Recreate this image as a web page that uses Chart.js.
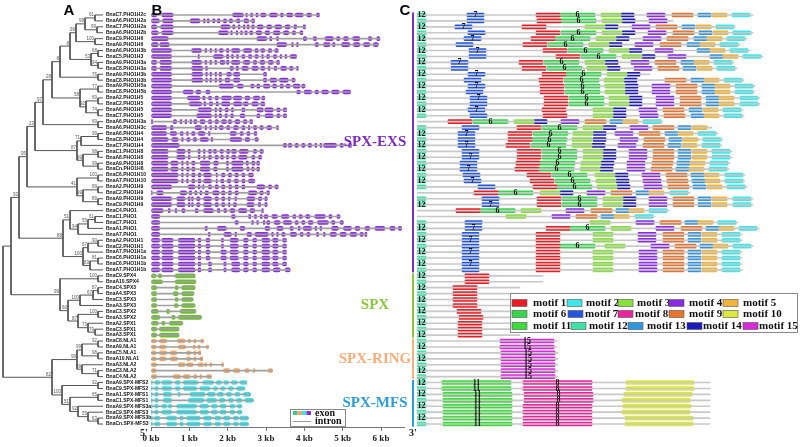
<!DOCTYPE html>
<html>
<head>
<meta charset="utf-8">
<script src="https://cdn.jsdelivr.net/npm/chart.js@4.4.1/dist/chart.umd.min.js"></script>
<style>
body { margin: 0; background: #fff; }
#wrap { position: relative; width: 800px; height: 447px; overflow: hidden; background: #fff; }
canvas { position: absolute; top: 0; }
#treeChart { left: 0; }
#geneChart { left: 130px; }
#motifChart { left: 400px; }
</style>
</head>
<body>
<div id="wrap">
<canvas id="treeChart" width="160" height="447"></canvas>
<canvas id="geneChart" width="290" height="447"></canvas>
<canvas id="motifChart" width="400" height="447"></canvas>
</div>
<script>
// gene names, top to bottom
const geneNames = ['BnaC7.PHO1H2c','BnaA6.PHO1H2a','BnaC7.PHO1H2a','BnaA6.PHO1H2b','BnaC9.PHO1H6','BnaA9.PHO1H6','BnaA6.PHO1H3b','BnaC5.PHO1H3','BnaA9.PHO1H3a','BnaC8.PHO1H3a','BnaA9.PHO1H3b','BnaC8.PHO1H3b','BnaA9.PHO1H5a','BnaC8.PHO1H5b','BnaA2.PHO1H5','BnaC2.PHO1H5','BnaA6.PHO1H5','BnaC7.PHO1H5','BnaA6.PHO1H3a','BnaA6.PHO1H3c','BnaA6.PHO1H4','BnaC8.PHO1H4','BnaC7.PHO1H4','BnaC1.PHO1H8','BnaA8.PHO1H8','BnaA9.PHO1H8','BnaCn.PHO1H8','BnaC6.PHO1H10','BnaA7.PHO1H10','BnaA2.PHO1H9','BnaC2.PHO1H9','BnaA9.PHO1H9','BnaC9.PHO1H9','BnaC4.PHO1','BnaC1.PHO1','BnaC7.PHO1','BnaA1.PHO1','BnaA7.PHO1','BnaA2.PHO1H1','BnaC2.PHO1H1','BnaA7.PHO1H1a','BnaC6.PHO1H1a','BnaC6.PHO1H1b','BnaA7.PHO1H1b','BnaC9.SPX4','BnaA10.SPX4','BnaC4.SPX3','BnaA4.SPX3','BnaC3.SPX3','BnaA3.SPX3','BnaC3.SPX2','BnaA3.SPX2','BnaA2.SPX1','BnaC3.SPX1','BnaA3.SPX1','BnaC8.NLA1','BnaA9.NLA1','BnaC5.NLA1','BnaA10.NLA1','BnaA3.NLA2','BnaC3.NLA2','BnaC4.NLA2','BnaA9.SPX-MFS2','BnaC9.SPX-MFS2','BnaA1.SPX-MFS1','BnaC1.SPX-MFS1','BnaA9.SPX-MFS3a','BnaC9.SPX-MFS3','BnaA9.SPX-MFS3b','BnaCn.SPX-MFS3']

const groupNames = ['SPX-EXS', 'SPX', 'SPX-RING', 'SPX-MFS']
const groupSizes = [44, 11, 7, 8]
const groupColors = ['#8b2be2', '#6cbe2c', '#f5a86e', '#38e4ef']
const groupLabelColors = ['#7a2cc0', '#8cc63f', '#f4ae7c', '#2f9bd7']
const groupStripColors = ['#7a30c0', '#8cc63f', '#f4b183', '#2e9bd6']

// tree: (childA,childB)bootstrap:depth, leaves are row numbers
const treeNewick = '((((((((((((0,1)61:95,(2,3)99:97)99:85,(4,5)100:95)99:76,((6,7)68:98,(8,9)94:98)53:91)8:70,(10,11)76:98)8:60,((12,13)77:98,((14,15)69:98,(16,17)74:98)92:86)58:80)28:52,(18,19)69:98)97:43,(((20,21)99:98,22)71:81,((23,24)98:98,(25,26)99:98)99:83)87:77)23:35,((27,28)100:98,((29,30)89:98,(31,32)89:98)99:83)41:77)95:27,((33,(((34,35)61:95,36)55:88,37)94:78)51:70,(((38,39)90:98,40)67:88,((41,42)81:98,43)83:90)100:83)88:63)93:19,((44,45)100:98,((((46,47)87:98,48)67:93,49)100:80,((50,51)100:98,(52,(53,54)79:95)73:88)87:78)60:68)99:60):11,((((55,56)92:98,(57,58)98:98)99:82,(59,(60,61)71:98)99:82)99:77,((62,63)92:98,((64,65)65:98,(66,(67,(68,69)63:98)55:88)92:78)51:70)100:62)82:52):3'
const leafDepth = 103

// exons in kb
const exonKb = [
 [[0,.15],[.28,.58],[2.13,2.41],[2.48,2.51],[2.6,2.65],[2.74,2.79],[2.86,3.0],[3.09,3.3],[3.38,3.45],[3.54,3.7],[3.76,3.97],[4.06,4.19],[4.32,4.39]],
 [[0,.22],[.3,.58],[1.02,1.28],[1.37,1.41],[1.47,1.52],[1.61,1.67],[1.73,1.8],[1.89,1.97],[2.04,2.13],[2.23,2.32],[2.42,2.55],[2.63,2.7]],
 [[0,.15],[.25,.58],[1.82,2.06],[2.13,2.19],[2.28,2.32],[2.41,2.45],[2.51,2.56],[2.63,2.69],[2.77,2.93],[3.02,3.15],[3.23,3.41],[3.5,3.63],[3.73,3.8],[3.97,4.03]],
 [[0,.19],[.28,.58],[1.76,2.02],[2.08,2.12],[2.22,2.26],[2.34,2.38],[2.45,2.51],[2.58,2.65],[2.74,2.89],[2.97,3.1],[3.19,3.37],[3.45,3.6],[3.69,3.77],[3.89,3.96]],
 [[0,.45],[2.76,3.02],[3.1,3.15],[3.28,3.32],[3.97,4.06],[4.23,4.32],[4.54,4.76],[4.84,4.93],[5.02,5.15],[5.26,5.45],[5.67,5.76],[5.89,5.97]],
 [[0,.19],[.23,.48],[3.28,3.54],[3.67,3.71],[3.8,3.84],[4.28,4.37],[4.5,4.67],[4.74,4.8],[4.97,5.19],[5.28,5.45],[5.54,5.71],[5.8,5.93]],
 [[0,.54],[1.06,1.32],[1.41,1.45],[1.54,1.58],[1.67,1.71],[1.78,1.89],[1.97,2.03],[2.1,2.32],[2.41,2.63],[2.71,2.8],[2.86,2.97],[3.06,3.15],[3.23,3.32]],
 [[0,.54],[1.23,1.26],[1.63,1.89],[1.97,2.03],[2.1,2.15],[2.23,2.28],[2.37,2.45],[2.54,2.63],[2.71,2.8],[2.89,2.93],[3.02,3.09],[3.19,3.28],[3.37,3.41],[3.5,3.54],[3.63,3.8]],
 [[0,.15],[.23,.54],[1.06,1.32],[1.41,1.45],[1.54,1.58],[1.67,1.71],[1.8,1.93],[1.97,2.03],[2.1,2.32],[2.41,2.58],[2.67,2.76],[2.84,2.97],[3.06,3.19],[3.28,3.35]],
 [[0,.15],[.23,.54],[1.06,1.35],[1.43,1.47],[2.06,2.15],[2.22,2.28],[2.37,2.54],[2.63,2.8],[2.86,2.97],[3.06,3.1],[3.21,3.28],[3.38,3.54],[3.61,3.71],[3.8,3.84]],
 [[0,.54],[1.06,1.35],[1.43,1.47],[1.54,1.58],[1.67,1.71],[1.78,1.84],[1.97,2.1],[2.15,2.32],[2.93,3.02]],
 [[0,.54],[1.06,1.35],[1.43,1.47],[1.54,1.58],[1.67,1.71],[1.78,1.84],[1.93,2.06],[2.15,2.32],[2.93,3.02],[3.1,3.28],[3.35,3.58],[3.67,3.76]],
 [[0,.54],[1.78,2.15],[2.25,2.41],[2.6,2.69],[2.76,2.84],[2.93,3.1],[3.17,3.28],[3.37,3.45],[3.52,3.63],[3.71,3.89],[3.93,4.02]],
 [[0,.54],[.84,1.1],[1.17,1.3],[1.43,1.54],[3.8,3.9],[3.99,4.19],[4.28,4.37],[4.45,4.63],[4.71,4.91],[5.0,5.21]],
 [[0,.54],[.95,1.28],[1.35,1.41],[1.5,1.58],[1.67,1.76],[1.84,2.1],[2.15,2.37],[2.45,2.58],[2.67,2.84],[2.89,2.97]],
 [[0,.54],[1.0,1.32],[1.38,1.43],[1.52,1.61],[1.7,1.76],[1.84,2.06],[2.15,2.37],[2.41,2.54],[2.63,2.8],[2.86,2.97]],
 [[0,.54],[1.23,1.58],[1.67,1.71],[1.78,1.84],[1.93,2.02],[2.1,2.15],[2.37,2.45],[2.76,2.93],[2.97,3.19],[3.28,3.37],[3.45,3.54]],
 [[0,.54],[1.19,1.58],[1.67,1.71],[1.78,1.84],[1.93,1.99],[2.08,2.15],[2.32,2.45],[2.76,2.84],[2.97,3.19],[3.28,3.37],[3.45,3.54]],
 [[0,.04],[.58,.67],[.76,.8],[.89,.93],[1.02,1.06],[1.12,1.19],[1.28,1.41],[1.5,1.58],[1.67,1.76],[1.84,1.97],[2.02,2.1],[2.19,2.32],[2.41,2.5],[2.58,2.65]],
 [[0,.41],[.5,.58],[1.15,1.32],[1.41,1.45],[1.54,1.58],[1.67,1.71],[1.78,1.89],[1.97,2.06],[2.15,2.28],[2.37,2.45],[2.54,2.58],[2.67,2.76],[2.84,2.93],[3.02,3.15],[3.28,3.32]],
 [[0,.41],[.5,.67],[.76,.84],[.93,.97],[1.06,1.15],[1.23,1.41],[1.5,1.54],[2.06,2.23],[2.32,2.41],[2.5,2.58],[2.69,2.76]],
 [[0,.45],[.54,.71],[.8,.84],[.93,1.02],[1.1,1.19],[1.28,1.5],[1.57,1.61],[2.06,2.37],[2.45,2.58],[2.71,2.8]],
 [[0,.74],[3.45,3.54],[3.58,3.67],[3.76,3.84],[3.93,4.02],[4.1,4.19],[4.28,4.32],[4.41,4.45],[4.5,4.84],[4.93,5.02],[5.15,5.23]],
 [[0,.45],[.67,.89],[.97,1.02],[1.23,1.28],[1.37,1.41],[1.5,1.58],[1.63,1.71],[1.8,1.89],[1.97,2.06],[2.1,2.23],[2.3,2.54],[2.67,2.76],[2.84,2.93]],
 [[0,.45],[.67,.89],[.97,1.02],[1.23,1.28],[1.37,1.41],[1.5,1.58],[1.67,1.76],[1.82,1.89],[1.97,2.02],[2.1,2.22],[2.28,2.51],[2.63,2.71],[2.8,2.89]],
 [[0,.45],[.51,.71],[.8,.84],[.93,.97],[1.06,1.15],[1.28,1.54],[1.63,1.76],[1.97,2.02],[2.1,2.41],[2.48,2.54],[2.63,2.71],[2.76,2.83]],
 [[0,.45],[.51,.71],[.8,.84],[.93,1.0],[1.06,1.15],[1.28,1.54],[1.63,1.73],[1.97,2.02],[2.1,2.41],[2.5,2.56],[2.63,2.69],[2.76,2.83]],
 [[0,.71],[.8,.84],[.93,.97],[1.06,1.15],[1.23,1.3],[1.37,1.58],[1.7,1.73],[1.84,1.93],[2.02,2.1],[2.19,2.28],[2.37,2.45],[2.54,2.67]],
 [[0,.71],[.8,.84],[.93,.97],[1.06,1.15],[1.23,1.3],[1.37,1.58],[1.7,1.73],[1.82,1.9],[1.99,2.08],[2.17,2.28],[2.37,2.45],[2.54,2.71]],
 [[0,.54],[.97,1.15],[1.23,1.28],[1.35,1.38],[1.5,1.58],[1.67,1.76],[1.84,1.93],[2.03,2.1],[2.19,2.28],[2.37,2.45],[2.76,2.97],[3.06,3.15],[3.23,3.32]],
 [[0,.03],[.15,.32],[.76,.93],[1.0,1.06],[1.15,1.19],[1.28,1.32],[1.41,1.5],[1.61,1.78],[1.84,1.93],[2.02,2.1],[2.19,2.28],[2.54,2.76],[2.84,2.93],[3.02,3.09]],
 [[0,.54],[.67,.89],[.97,1.02],[1.06,1.1],[1.19,1.28],[1.37,1.58],[1.67,1.76],[1.84,1.93],[2.02,2.06],[2.19,2.23],[2.5,2.71],[2.8,2.89],[2.97,3.03]],
 [[0,.54],[.67,.89],[.97,1.02],[1.06,1.1],[1.19,1.28],[1.37,1.58],[1.67,1.76],[1.84,1.93],[2.02,2.06],[2.15,2.23],[2.5,2.69],[2.8,2.86],[2.97,3.03]],
 [[0,.32],[.45,.5],[.63,.67],[.8,.89],[1.15,1.23],[1.37,1.63],[1.73,1.8],[1.9,1.97],[2.06,2.19],[2.28,2.5],[2.58,2.71],[2.89,2.93]],
 [[0,.23],[2.1,2.2],[2.55,2.6],[2.7,2.75],[2.85,2.9],[2.95,3.05],[3.15,3.3],[3.4,3.6],[3.7,3.78],[3.86,3.95],[4.03,4.15],[4.27,4.55],[4.64,4.72],[4.85,4.93]],
 [[0,.23],[2.19,2.28],[2.63,2.67],[2.76,2.8],[2.93,2.97],[3.02,3.1],[3.21,3.37],[3.45,3.67],[3.76,3.84],[3.93,4.02],[4.1,4.23],[4.34,4.63],[4.71,4.8],[4.93,5.02]],
 [[0,.23],[1.41,1.47],[1.73,1.97],[2.32,2.45],[2.97,3.1],[3.28,3.45],[3.63,3.71],[3.84,3.89],[3.97,4.19],[4.28,4.32],[4.41,4.45],[4.71,4.89],[5.02,5.23],[5.32,5.45],[5.58,5.71],[5.84,6.1],[6.23,6.37],[6.45,6.54]],
 [[0,.23],[1.5,1.54],[1.9,2.1],[2.19,2.23],[2.5,2.63],[2.71,3.06],[3.15,3.19],[3.28,3.32],[3.41,3.5],[3.63,3.8],[3.89,3.97],[4.06,4.15],[4.32,4.37],[4.5,4.54],[4.67,4.84],[4.93,5.1],[5.19,5.37],[5.45,5.54],[5.58,5.63]],
 [[0,.23],[.28,.58],[.71,1.15],[1.23,1.3],[1.43,1.54],[1.84,1.89],[2.06,2.28],[2.41,2.54],[2.65,2.76],[2.89,3.1],[3.17,3.32],[3.43,3.54]],
 [[0,.23],[.28,.58],[.71,1.15],[1.23,1.3],[1.43,1.54],[1.84,1.89],[2.06,2.28],[2.41,2.54],[2.65,2.76],[2.89,3.1],[3.17,3.32],[3.43,3.54]],
 [[0,.23],[.28,.58],[.71,1.15],[1.23,1.3],[1.43,1.54],[1.82,1.97],[2.06,2.28],[2.41,2.54],[2.65,2.76],[2.89,3.1],[3.17,3.32],[3.43,3.54]],
 [[0,.23],[.28,.58],[.71,1.15],[1.23,1.3],[1.43,1.54],[1.82,1.97],[2.06,2.28],[2.41,2.54],[2.65,2.76],[2.89,3.1],[3.17,3.32],[3.43,3.54]],
 [[0,.23],[.28,.58],[.71,1.15],[1.23,1.3],[1.5,1.58],[1.9,1.96],[2.1,2.32],[2.41,2.54],[2.65,2.76],[2.89,3.1],[3.17,3.32],[3.43,3.54]],
 [[0,.23],[.28,.58],[.71,1.15],[1.23,1.3],[1.5,1.58],[1.9,1.96],[2.1,2.32],[2.41,2.54],[2.65,2.76],[2.89,3.1],[3.19,3.37],[3.5,3.63]],
 [[0,.13],[.19,.28],[.63,1.15]],
 [[0,.3],[.63,1.17]],
 [[0,.15],[.63,.71],[.8,1.15]],
 [[0,.15],[.58,.71],[.8,1.12]],
 [[0,.15],[.63,.71],[.8,1.1]],
 [[0,.15],[.61,.71],[.8,1.15]],
 [[0,.19],[.41,.48],[.76,1.17]],
 [[0,.23],[.54,.63],[.71,1.32]],
 [[0,.19],[.28,.37],[.48,.83]],
 [[0,.15],[.22,.73]],
 [[0,.15],[.22,.73]],
 [[0,.13],[.22,.41],[.69,.89],[.97,1.03],[1.12,1.17],[1.3,1.37]],
 [[0,.13],[.22,.39],[.71,.91],[1.1,1.15],[1.23,1.28],[1.45,1.5]],
 [[0,.13],[.22,.41],[.5,.67],[.93,1.03],[1.12,1.17],[1.23,1.3]],
 [[0,.13],[.22,.39],[.5,.69],[.93,1.03],[1.12,1.17],[1.28,1.35]],
 [[0,.15],[.71,.89],[.93,1.1],[1.23,1.37],[1.41,1.45],[1.54,1.58],[1.84,1.89]],
 [[0,.13],[1.89,2.06],[2.15,2.32],[2.45,2.56],[2.67,2.71],[3.06,3.17]],
 [[0,.15],[.58,.77],[.84,1.02],[1.12,1.19],[1.28,1.32],[1.45,1.58]],
 [[0,.03],[.1,.23],[.28,.54],[.63,.76],[.84,1.23],[1.35,1.63],[1.7,1.84],[1.9,2.02],[2.1,2.25],[2.32,2.5]],
 [[0,.03],[.1,.19],[.28,.54],[.63,.76],[.84,1.19],[1.28,1.54],[1.63,1.73],[1.82,1.93],[2.02,2.15],[2.23,2.45]],
 [[0,.03],[.1,.19],[.32,.54],[.71,.76],[1.02,1.41],[1.47,1.67],[1.73,1.89],[1.97,2.1],[2.19,2.32],[2.41,2.6]],
 [[0,.03],[.1,.19],[.32,.54],[.97,1.38],[1.45,1.71],[1.78,1.93],[2.02,2.15],[2.23,2.37],[2.45,2.67]],
 [[0,.03],[.1,.19],[.28,.41],[.45,.54],[.67,1.19],[1.28,1.5],[1.58,1.73],[1.8,1.96],[2.06,2.19],[2.25,2.37]],
 [[0,.03],[.1,.19],[.28,.54],[.67,1.19],[1.28,1.5],[1.58,1.73],[1.8,1.96],[2.06,2.19],[2.25,2.37]],
 [[0,.03],[.1,.23],[.41,.67],[.76,.84],[.93,1.28],[1.37,1.58],[1.67,1.82],[1.89,2.06],[2.15,2.28],[2.32,2.54]],
 [[0,.03],[.1,.23],[.41,.67],[.76,.84],[.93,1.28],[1.37,1.58],[1.67,1.82],[1.89,2.06],[2.15,2.28],[2.32,2.54]]
]
const kbTicks = [0, 1, 2, 3, 4, 5, 6]

// motifs (index = motif number - 1)
const motifColors = ['#ec1c24','#3fe7ea','#86e23a','#8a2be2','#f2b53a','#35d84d','#2457e0','#e8249e','#e8732c','#dde83c','#3bdc3b','#3ee3a8','#3196de','#1c1ab8','#d62bd9']
const motifLength = [24,18,20,18,15,35,17,69,21,68,69,9,13,13,54]
const labelledMotifs = [6, 7, 8, 11, 12, 15]

const phoMotifOrder = [12,7,1,6,3,14,4,9,13,5,2]
const phoMotifStarts = [
 [0,50,119,143,184,204,230,255,281,295,315],
 [0,50,120,144,185,205,232,null,null,null,null],
 [0,38,105,null,168,188,215,239,265,279,299],
 [0,51,119,144,185,205,231,256,282,296,316],
 [0,47,114,138,179,199,226,250,277,290,310],
 [0,39,106,131,172,192,218,243,270,283,303],
 [0,52,126,151,192,212,238,null,280,293,313],
 [0,52,139,164,205,225,251,null,293,306,326],
 [0,34,102,127,168,188,214,238,264,277,297],
 [0,34,105,130,170,190,217,241,266,280,300],
 [0,51,125,149,190,210,null,null,null,null,null],
 [0,47,122,147,187,207,null,248,274,287,307],
 [0,51,123,148,188,208,235,259,285,298,318],
 [0,49,123,148,188,208,235,259,285,298,318],
 [0,53,127,152,192,212,239,263,289,302,323],
 [0,53,127,152,192,212,239,263,289,302,323],
 [0,51,125,null,176,196,222,246,272,286,306],
 [0,53,126,null,176,196,223,247,274,287,307],
 [null,null,31,56,97,117,144,168,193,206,226],
 [0,45,100,125,166,186,213,236,261,275,null],
 [0,41,91,116,156,176,198,222,248,261,281],
 [0,41,91,115,155,176,203,227,252,266,286],
 [0,41,89,114,155,175,201,226,251,265,285],
 [0,45,100,125,166,186,212,236,261,275,295],
 [0,45,100,125,166,186,212,236,261,275,295],
 [0,43,99,123,164,184,210,235,260,273,293],
 [0,43,98,122,163,183,210,234,259,272,292],
 [0,46,110,135,178,198,225,249,274,287,308],
 [0,47,113,138,179,199,226,250,275,288,308],
 [0,61,116,140,180,200,227,251,276,290,310],
 [null,null,57,81,123,143,170,194,219,232,253],
 [0,65,120,145,186,206,232,256,281,295,316],
 [0,65,120,145,186,206,232,256,281,295,316],
 [null,null,39,63,104,null,149,174,199,212,232],
 [null,null,null,null,89,null,135,159,184,197,218],
 [0,48,null,null,173,null,219,243,268,281,301],
 [0,48,129,153,194,null,239,264,289,302,322],
 [0,45,119,null,176,null,221,246,271,285,305],
 [0,45,119,null,176,null,221,246,271,285,305],
 [0,45,119,143,188,null,234,258,283,296,316],
 [0,45,119,null,176,null,222,246,271,285,305],
 [0,45,119,null,176,null,222,246,271,285,305],
 [0,45,119,null,176,null,222,246,271,285,305],
 [0,45,119,null,176,null,222,246,271,285,305]
]
const spxMotifOrder = [12, 1]
const spxMotifStarts = [[0,48],[0,48],[0,36],[0,36],[0,36],[0,36],[0,40],[0,42],[0,41],[0,41],[0,41]]
const nlaMotifOrder = [12, 15]
const nlaMotifStarts = [[0,83],[0,83],[0,84],[0,84],[0,84],[0,84],[0,84]]
const mfsMotifOrder = [12, 11, 8, 10]
const mfsMotifStarts = [[0,25,106,209],[0,25,106,209],[0,26,107,207],[0,26,107,205],[0,26,106,206],[0,26,106,205],[0,26,106,208],[0,26,106,208]]
const proteinLength = [336,256,318,336,330,323,333,346,317,320,233,327,338,338,343,343,326,327,246,295,301,306,305,315,315,313,312,328,328,330,273,336,336,252,238,321,342,325,325,336,325,325,325,325,
 126,126,103,103,103,103,103,103,103,103,103,
 140,140,141,141,141,141,141,
 293,293,293,293,293,293,293,293]


// ---------- helpers ----------
const rowGroup = []
groupSizes.forEach((n, g) => { for (let k = 0; k < n; k++) rowGroup.push(g) })

function parseNewick(s) {
    let i = 0
    function node() {
        if (s[i] == '(') {
            i++
            const kids = [node()]
            while (s[i] == ',') { i++; kids.push(node()) }
            i++
            let boot = ''
            while (i < s.length && /[0-9]/.test(s[i])) boot += s[i++]
            let depth = ''
            if (s[i] == ':') { i++; while (i < s.length && /[0-9.]/.test(s[i])) depth += s[i++] }
            return { kids: kids, boot: boot, depth: +depth }
        }
        let leaf = ''
        while (/[0-9]/.test(s[i])) leaf += s[i++]
        return { leaf: +leaf }
    }
    return node()
}

const treeSegs = []
const bootLabels = []
function placeNode(n) {
    if (n.kids === undefined) return { x: leafDepth, y: n.leaf }
    const kids = n.kids.map(placeNode)
    const first = kids[0], last = kids[kids.length - 1]
    treeSegs.push({ x: first.x, y: first.y }, { x: n.depth, y: first.y }, { x: n.depth, y: last.y }, { x: last.x, y: last.y }, { x: null, y: null })
    for (let k = 1; k < kids.length - 1; k++) {
        treeSegs.push({ x: n.depth, y: kids[k].y }, { x: kids[k].x, y: kids[k].y }, { x: null, y: null })
    }
    const y = (first.y + last.y) / 2
    if (n.boot) bootLabels.push({ x: n.depth, y: y, text: n.boot })
    return { x: n.depth, y: y }
}
placeNode(parseNewick(treeNewick))

function drawText(ctx, text, x, y, font, color, align, base) {
    ctx.save()
    ctx.font = font
    ctx.fillStyle = color
    ctx.textAlign = align || 'center'
    ctx.textBaseline = base || 'middle'
    ctx.fillText(text, x, y)
    ctx.restore()
}


// ---------- A: tree ----------
const treePlugin = {
    id: 'treeLabels',
    afterDatasetsDraw(chart) {
        const ctx = chart.ctx
        const xs = chart.scales.x, ys = chart.scales.y
        bootLabels.forEach(function(b) {
            drawText(ctx, b.text, xs.getPixelForValue(b.x) - 1, ys.getPixelForValue(b.y) - 0.5, '4.5px "Liberation Sans"', '#555', 'right', 'bottom')
        })
        drawText(ctx, 'A', 69, 11, 'bold 15px "Liberation Sans"', '#000')
    }
}

new Chart(document.getElementById('treeChart'), {
    type: 'scatter',
    data: {
        datasets: [{
            data: treeSegs,
            showLine: true,
            spanGaps: false,
            borderColor: '#555',
            borderWidth: 1,
            pointRadius: 0,
            pointHitRadius: 0
        }]
    },
    options: {
        animation: false,
        responsive: false,
        events: [],
        layout: { padding: { top: 12, bottom: 20, left: 0, right: 0 } },
        plugins: { legend: { display: false }, tooltip: { enabled: false } },
        scales: {
            x: { type: 'linear', display: false, min: 0, max: 104 },
            y: {
                type: 'linear', position: 'right', reverse: true, min: -0.5, max: geneNames.length - 0.5,
                afterBuildTicks: function(s) { s.ticks = geneNames.map(function(_, i) { return { value: i } }) },
                afterFit: function(s) { s.width = 56 },
                grid: { display: false, drawTicks: false },
                border: { display: false },
                ticks: {
                    autoSkip: false, padding: 2, color: '#111',
                    font: { family: 'Liberation Sans', size: 5, weight: 'bold' },
                    callback: function(v) { return geneNames[v] }
                }
            }
        }
    },
    plugins: [treePlugin]
})


// ---------- B: gene structure ----------
const maxExons = Math.max.apply(null, exonKb.map(function(g) { return g.length }))
const geneDatasets = [{
    data: exonKb.map(function(g) { return [0, g[g.length - 1][1]] }),
    backgroundColor: '#a0a0a0',
    barThickness: 1,
    grouped: false
}]
for (let k = 0; k < maxExons; k++) {
    geneDatasets.push({
        data: exonKb.map(function(g) { return g[k] || null }),
        backgroundColor: rowGroup.map(function(g) { return groupColors[g] }),
        barThickness: 4,
        borderRadius: 2,
        borderSkipped: false,
        grouped: false
    })
}

const genePlugin = {
    id: 'geneDecor',
    afterDraw(chart) {
        const ctx = chart.ctx, ys = chart.scales.y
        let row = 0
        groupSizes.forEach(function(n, g) {
            const yc = (ys.getPixelForValue(row) + ys.getPixelForValue(row + n - 1)) / 2
            drawText(ctx, groupNames[g], 245, yc, 'bold 15px "Liberation Serif"', groupLabelColors[g])
            row += n
        })
        drawText(ctx, 'B', 27, 11, 'bold 15px "Liberation Sans"', '#000')
        drawText(ctx, "5'", 14, 433, 'bold 10px "Liberation Serif"', '#222')
        drawText(ctx, "3'", 283, 433, 'bold 10px "Liberation Serif"', '#222')
        // exon / intron key
        ctx.save()
        ctx.strokeStyle = '#888'
        ctx.lineWidth = 1
        ctx.strokeRect(160.5, 409.5, 55, 17)
        const keyCols = ['#38c98a', '#f5a86e', '#38e4ef', '#8b2be2']
        keyCols.forEach(function(c, k) { ctx.fillStyle = c; ctx.fillRect(163 + k * 4.5, 411, 4.5, 4) })
        ctx.fillStyle = '#999'
        ctx.fillRect(163, 421, 18, 1)
        ctx.restore()
        drawText(ctx, 'exon', 185, 413, 'bold 10px "Liberation Serif"', '#111', 'left')
        drawText(ctx, 'intron', 185, 421.5, 'bold 10px "Liberation Serif"', '#111', 'left')
    }
}

new Chart(document.getElementById('geneChart'), {
    type: 'bar',
    data: { labels: geneNames, datasets: geneDatasets },
    options: {
        indexAxis: 'y',
        animation: false,
        responsive: false,
        events: [],
        layout: { padding: { top: 12, bottom: 0, left: 21, right: 16 } },
        plugins: { legend: { display: false }, tooltip: { enabled: false } },
        scales: {
            x: {
                type: 'linear', min: 0, max: 6.6,
                afterBuildTicks: function(s) { s.ticks = kbTicks.map(function(v) { return { value: v } }) },
                afterFit: function(s) { s.height = 20 },
                grid: { drawOnChartArea: false, tickLength: 4, color: '#777' },
                border: { color: '#777' },
                ticks: {
                    padding: 2, color: '#222', maxRotation: 0,
                    font: { family: 'Liberation Serif', size: 9, weight: 'bold' },
                    callback: function(v) { return v + ' kb' }
                }
            },
            y: { display: false }
        }
    },
    plugins: [genePlugin]
})


// ---------- C: motifs ----------
const motifRows = []
;[[phoMotifOrder, phoMotifStarts], [spxMotifOrder, spxMotifStarts], [nlaMotifOrder, nlaMotifStarts], [mfsMotifOrder, mfsMotifStarts]].forEach(function(grp) {
    grp[1].forEach(function(r) {
        const o = {}
        grp[0].forEach(function(m, k) { if (r[k] != null) o[m] = r[k] })
        motifRows.push(o)
    })
})

const motifDatasets = [{
    data: proteinLength.map(function(len) { return [0, len] }),
    backgroundColor: '#c8c8c8',
    barThickness: 1,
    grouped: false
}]
for (let m = 1; m <= 15; m++) {
    motifDatasets.push({
        motif: m,
        data: motifRows.map(function(o) { return o[m] == null ? null : [o[m], o[m] + motifLength[m - 1]] }),
        backgroundColor: motifColors[m - 1],
        barThickness: 4,
        borderRadius: 1,
        borderSkipped: false,
        grouped: false
    })
}

const motifPlugin = {
    id: 'motifDecor',
    afterDraw(chart) {
        const ctx = chart.ctx, ys = chart.scales.y
        // group strips on the left
        let row = 0
        groupSizes.forEach(function(n, g) {
            const top = ys.getPixelForValue(row) - 2.5
            const bottom = ys.getPixelForValue(row + n - 1) + 2.5
            ctx.fillStyle = groupStripColors[g]
            ctx.fillRect(12, top, 2, bottom - top)
            row += n
        })
        // motif numbers on the boxes
        chart.data.datasets.forEach(function(ds, di) {
            if (!ds.motif || labelledMotifs.indexOf(ds.motif) < 0) return
            const meta = chart.getDatasetMeta(di)
            meta.data.forEach(function(bar, i) {
                if (ds.data[i] == null) return
                if ((ds.motif == 12 || ds.motif == 7) && i % 2 == 1) return
                drawText(ctx, String(ds.motif), (bar.x + bar.base) / 2, bar.y, 'bold 8px "Liberation Serif"', '#111')
            })
        })
        drawText(ctx, 'C', 5, 11, 'bold 15px "Liberation Sans"', '#000')
        // motif key
        ctx.save()
        ctx.fillStyle = '#fff'
        ctx.fillRect(110, 293, 287, 39)
        ctx.strokeStyle = '#888'
        ctx.lineWidth = 1
        ctx.strokeRect(110.5, 293.5, 287, 39)
        ctx.restore()
        const keyPos = [
            [112, 133], [167, 186], [218, 237], [269, 289], [323, 343],
            [112, 133], [168, 185], [218, 235], [269, 289], [323, 343],
            [112, 133], [171, 189], [228, 247], [287, 303], [343, 359]
        ]
        const keyRowY = [303, 314, 326]
        keyPos.forEach(function(p, k) {
            const y = keyRowY[Math.floor(k / 5)]
            ctx.save()
            ctx.fillStyle = motifColors[k]
            ctx.fillRect(p[0], y - 3.5, 15, 7)
            ctx.strokeStyle = '#555'
            ctx.lineWidth = 0.6
            ctx.strokeRect(p[0], y - 3.5, 15, 7)
            ctx.restore()
            drawText(ctx, 'motif ' + (k + 1), p[1], y, 'bold 11px "Liberation Serif"', '#111', 'left')
        })
    }
}

new Chart(document.getElementById('motifChart'), {
    type: 'bar',
    data: { labels: geneNames, datasets: motifDatasets },
    options: {
        indexAxis: 'y',
        animation: false,
        responsive: false,
        events: [],
        layout: { padding: { top: 12, bottom: 20, left: 17, right: 3 } },
        plugins: { legend: { display: false }, tooltip: { enabled: false } },
        scales: {
            x: { type: 'linear', display: false, min: 0, max: 380 },
            y: { display: false }
        }
    },
    plugins: [motifPlugin]
})
</script>
</body>
</html>
